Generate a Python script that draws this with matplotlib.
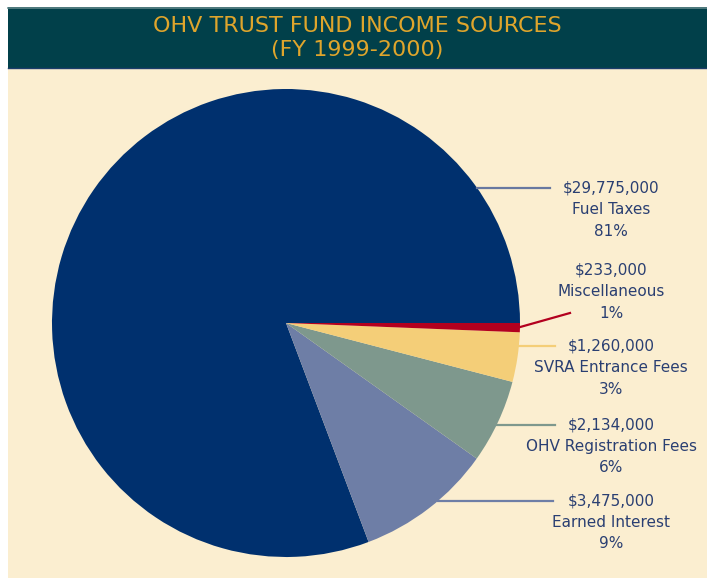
import matplotlib
matplotlib.use("Agg")
import matplotlib.pyplot as plt
from matplotlib.patches import Rectangle
import numpy as np

# Data
categories = ["Fuel Taxes", "Earned Interest", "OHV Registration Fees",
              "SVRA Entrance Fees", "Miscellaneous"]
values = [29775000, 3475000, 2134000, 1260000, 233000]
amount_labels = ["$29,775,000", "$3,475,000", "$2,134,000", "$1,260,000", "$233,000"]
pct_labels = ["81%", "9%", "6%", "3%", "1%"]
title_lines = ["OHV TRUST FUND INCOME SOURCES", "(FY 1999-2000)"]

colors = ["#00306E", "#6E7EA6", "#7E988D", "#F4CE78", "#B3001E"]
line_colors = ["#6878A0", "#6E7EA6", "#7E988D", "#F4CE78", "#B3001E"]

W, H = 707, 579
fig = plt.figure(figsize=(W / 100, H / 100), dpi=100)
fig.patch.set_facecolor("white")
ax = fig.add_axes([0, 0, 1, 1])
ax.set_xlim(0, W)
ax.set_ylim(0, H)
ax.axis("off")

def py(y):
    return H - y

# panel + title bar
ax.add_patch(Rectangle((8, py(578)), W - 8, 578 - 68, facecolor="#FBEED0", edgecolor="none", zorder=0))
ax.add_patch(Rectangle((8, py(68)), W - 8, 68 - 7, facecolor="#01404A", edgecolor="none", zorder=1))
ax.plot([8, W], [py(7.5), py(7.5)], color="#5E8588", lw=1.2, zorder=2)
ax.plot([8, W], [py(67.5), py(67.5)], color="#1C3D6A", lw=1.0, zorder=2)

ax.text(357, py(26), title_lines[0], ha="center", va="center", color="#DFA52C",
        fontsize=16, family="DejaVu Sans", zorder=3)
ax.text(357, py(50), title_lines[1], ha="center", va="center", color="#DFA52C",
        fontsize=16, family="DejaVu Sans", zorder=3)

# pie
cx, cy, r = 286, py(323), 234
wedges, _ = ax.pie(values, colors=colors, startangle=0, counterclock=True,
                   center=(cx, cy), radius=r, frame=True,
                   wedgeprops=dict(linewidth=0, antialiased=True))
ax.set_xlim(0, W)
ax.set_ylim(0, H)
ax.axis("off")
ax.set_aspect("equal")

# labels: (label y in px, line end x) per category
label_y = [188, 501, 425, 346, 270]
line_end_x = [550, 553, 555, 555, 570]
text_x = 611
lh = 21.5
for i, (w, a, c, p) in enumerate(zip(wedges, amount_labels, categories, pct_labels)):
    ly = label_y[i]
    if i == 4:
        ang = np.deg2rad((w.theta1 + w.theta2) / 2)
        sx, sy = cx + r * np.cos(ang) - 2, cy + r * np.sin(ang)
        ex, ey = line_end_x[i], py(ly + 2 * lh)
        ax.plot([sx, ex], [sy, ey], color=line_colors[i], lw=1.6, zorder=4)
    else:
        dy = cy - py(ly)
        sx = cx + np.sqrt(r ** 2 - dy ** 2)
        ax.plot([sx, line_end_x[i]], [py(ly), py(ly)], color=line_colors[i], lw=1.6, zorder=4)
    for k, t in enumerate([a, c, p]):
        ax.text(text_x, py(ly + k * lh), t, ha="center", va="center",
                color="#2A3F72", fontsize=11, family="DejaVu Sans", zorder=5)

fig.savefig("out.png", dpi=100, facecolor="white")
